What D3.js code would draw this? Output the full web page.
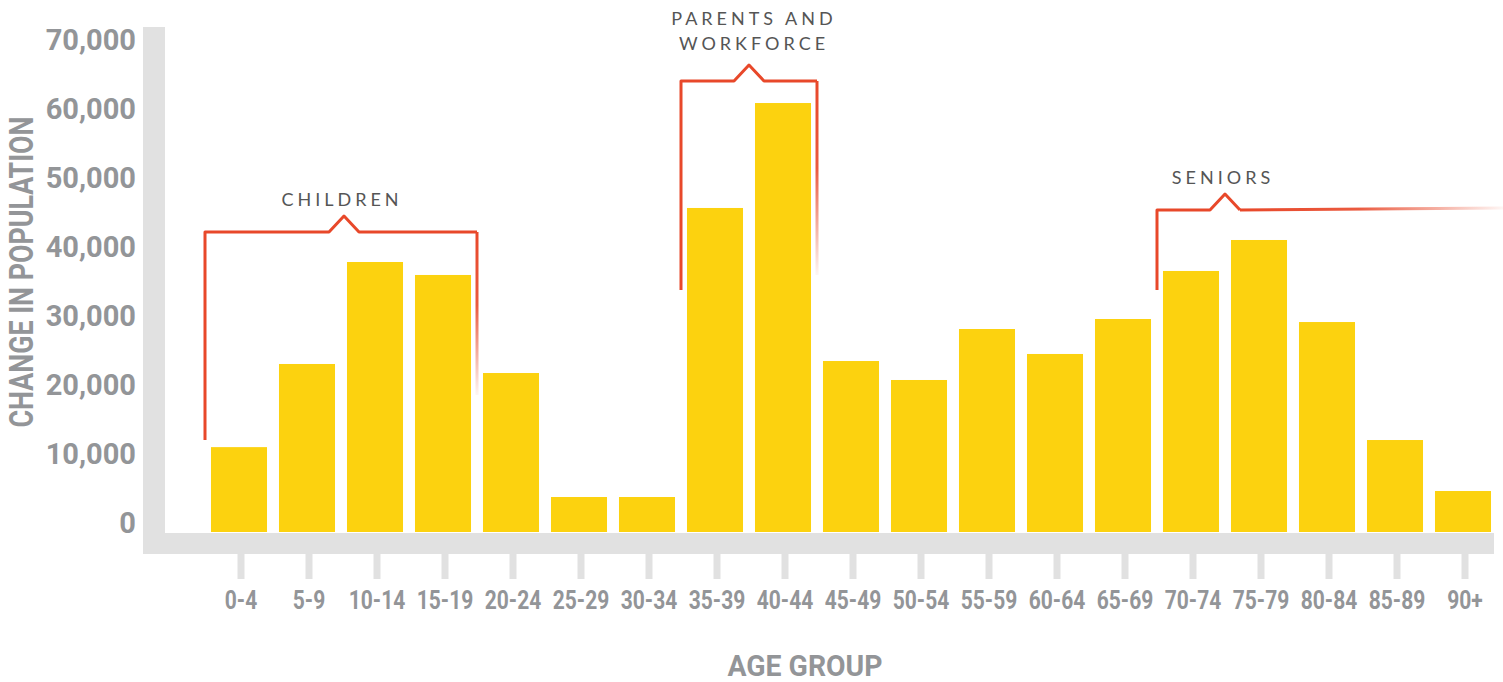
<!DOCTYPE html>
<html>
<head>
<meta charset="utf-8">
<script src="https://cdn.jsdelivr.net/npm/d3@7"></script>
<style>
  body { margin: 0; background: #fff; }
  svg { display: block; }
  .lbl { font-family: "Roboto", "Liberation Sans", sans-serif; font-weight: bold; fill: #939598; }
  .note { font-family: "Lato", "DejaVu Sans", sans-serif; font-weight: 400; fill: #555; }
</style>
</head>
<body>
<svg id="chart"></svg>
<script>
// data ---------------------------------------------------------------
let ageGroups = ["0-4", "5-9", "10-14", "15-19", "20-24", "25-29", "30-34", "35-39", "40-44",
  "45-49", "50-54", "55-59", "60-64", "65-69", "70-74", "75-79", "80-84", "85-89", "90+"];
let popChange = [12300, 24350, 39130, 37250, 23040, 5070, 5070, 46960, 62170,
  24780, 22030, 29420, 25800, 30870, 37830, 42320, 30430, 13330, 5940];
let yTicks = [0, 10000, 20000, 30000, 40000, 50000, 60000, 70000];

// annotation groups
let groupLabels = [["CHILDREN"], ["PARENTS AND", "WORKFORCE"], ["SENIORS"]];
let groupFirst = ["0-4", "35-39", "70-74"];
let groupLast = ["15-19", "40-44", null];

//svg spec
let width = 1503;
let height = 682;
let barColor = "#fcd20f";
let frameColor = "#e1e1e1";
let noteColor = "#e8482a";

let svg = d3.select("#chart").attr("width", width).attr("height", height);

let x = d3.scaleBand()
  .domain(ageGroups)
  .range([205, 1497])
  .paddingInner(0.176)
  .paddingOuter(0.088);

let y = d3.scaleLinear()
  .domain([0, 70000])
  .range([532, 49]);

let half = x.step() * x.paddingInner() / 2;

// squeeze a text horizontally, like a condensed face
function squeeze(sel, k) {
  sel.each(function() {
    let len = this.getComputedTextLength();
    d3.select(this).attr("textLength", len * k).attr("lengthAdjust", "spacingAndGlyphs");
  });
}

// frame ------------------------------------------------------------
svg.append("rect")
  .attr("x", 143).attr("y", 27)
  .attr("width", 22).attr("height", y(0) + 22 - 27)
  .attr("fill", frameColor);
svg.append("rect")
  .attr("x", 143).attr("y", y(0) + 1)
  .attr("width", x(ageGroups[ageGroups.length - 1]) + x.bandwidth() + 3 - 143).attr("height", 21)
  .attr("fill", frameColor);

// bars -------------------------------------------------------------
let barData = ageGroups.map((a, i) => ({age: a, value: popChange[i]}));

svg.append("g").selectAll("rect")
  .data(barData)
  .join("rect")
  .attr("x", d => x(d.age))
  .attr("y", d => y(d.value))
  .attr("width", x.bandwidth())
  .attr("height", d => y(0) - y(d.value))
  .attr("fill", barColor);

// axes -------------------------------------------------------------
let xAxis = svg.append("g")
  .attr("transform", `translate(2, ${y(0) + 22})`)
  .call(d3.axisBottom(x).tickSize(25).tickPadding(12))
  .call(g => g.select(".domain").remove())
  .attr("font-family", null);
xAxis.selectAll(".tick line").attr("stroke", frameColor).attr("stroke-width", 7);
xAxis.selectAll(".tick text")
  .attr("class", "lbl")
  .attr("font-size", 25)
  .attr("fill", null)
  .call(squeeze, 0.84);

let yAxis = svg.append("g")
  .attr("transform", "translate(136, 0)")
  .call(d3.axisLeft(y).tickValues(yTicks).tickFormat(d3.format(",")).tickSize(0).tickPadding(0))
  .call(g => g.select(".domain").remove())
  .attr("font-family", null);
yAxis.selectAll(".tick text")
  .attr("class", "lbl")
  .attr("font-size", 29)
  .attr("dy", 0)
  .attr("fill", null);

// axis titles
svg.append("text")
  .attr("class", "lbl")
  .attr("transform", "translate(33, 272) rotate(-90)")
  .attr("text-anchor", "middle")
  .attr("font-size", 33)
  .attr("textLength", 311)
  .attr("lengthAdjust", "spacingAndGlyphs")
  .text("CHANGE IN POPULATION");

svg.append("text")
  .attr("class", "lbl")
  .attr("x", 805).attr("y", 676)
  .attr("text-anchor", "middle")
  .attr("font-size", 30)
  .attr("textLength", 155)
  .attr("lengthAdjust", "spacingAndGlyphs")
  .text("AGE GROUP");

// brackets ---------------------------------------------------------
let defs = svg.append("defs");
function fadeGrad(id, x1, y1, x2, y2) {
  let g = defs.append("linearGradient").attr("id", id)
    .attr("gradientUnits", "userSpaceOnUse")
    .attr("x1", x1).attr("y1", y1).attr("x2", x2).attr("y2", y2);
  g.append("stop").attr("offset", 0).attr("stop-color", noteColor).attr("stop-opacity", 1);
  g.append("stop").attr("offset", 0.45).attr("stop-color", noteColor).attr("stop-opacity", 0.9);
  g.append("stop").attr("offset", 1).attr("stop-color", noteColor).attr("stop-opacity", 0.05);
}

let bracketTop = [232, 81, 210];
let bracketLeftBottom = [440, 290, 290];
let bracketRightBottom = [395, 275, null];
let peakX = [344, 749, 1225];
let labelX = [342, 754, 1223];
let labelY = [[206], [25, 50], [184]];

groupLabels.forEach((lbls, i) => {
  let left = x(groupFirst[i]) - half;
  let right = groupLast[i] ? x(groupLast[i]) + x.bandwidth() + half : width;
  let top = bracketTop[i];
  let g = svg.append("g")
    .attr("fill", "none")
    .attr("stroke", noteColor)
    .attr("stroke-width", 3)
    .attr("stroke-linejoin", "round");

  // left side + top to peak
  let pts = [[left, bracketLeftBottom[i]], [left, top], [peakX[i] - 15, top], [peakX[i], top - 16], [peakX[i] + 15, top]];
  if (groupLast[i]) {
    pts.push([right, top]);
    g.append("path").attr("d", d3.line()(pts));
    fadeGrad("fade" + i, right, top, right, bracketRightBottom[i]);
    g.append("path")
      .attr("d", d3.line()([[right, top], [right, bracketRightBottom[i]]]))
      .attr("stroke", `url(#fade${i})`);
  } else {
    g.append("path").attr("d", d3.line()(pts));
    fadeGrad("fade" + i, peakX[i] + 15, top, right, top - 2);
    g.append("path")
      .attr("d", d3.line()([[peakX[i] + 15, top], [right, top - 2]]))
      .attr("stroke", `url(#fade${i})`);
  }

  lbls.forEach((t, j) => {
    svg.append("text")
      .attr("class", "note")
      .attr("x", labelX[i])
      .attr("y", labelY[i][j])
      .attr("text-anchor", "middle")
      .attr("font-size", 18)
      .attr("letter-spacing", 4)
      .text(t);
  });
});
</script>
</body>
</html>
